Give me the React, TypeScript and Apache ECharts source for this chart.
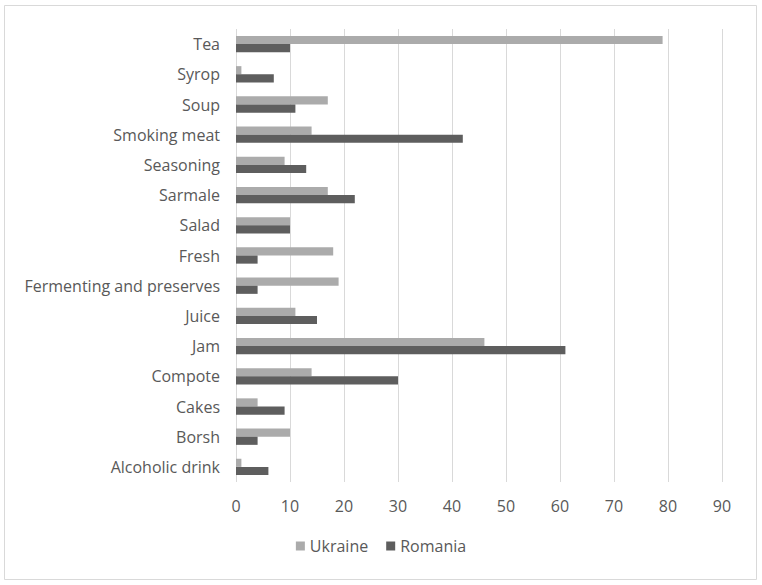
import React, { useEffect, useRef } from "react";
import * as echarts from "echarts";

const categories = [
  "Tea",
  "Syrop",
  "Soup",
  "Smoking meat",
  "Seasoning",
  "Sarmale",
  "Salad",
  "Fresh",
  "Fermenting and preserves",
  "Juice",
  "Jam",
  "Compote",
  "Cakes",
  "Borsh",
  "Alcoholic drink",
];
const ukraine = [79, 1, 17, 14, 9, 17, 10, 18, 19, 11, 46, 14, 4, 10, 1];
const romania = [10, 7, 11, 42, 13, 22, 10, 4, 4, 15, 61, 30, 9, 4, 6];
const xTicks = { min: 0, max: 90, interval: 10 };

const FONT = "Open Sans";
const TEXT = "#595959";

export default function App() {
  const ref = useRef<HTMLDivElement>(null);
  useEffect(() => {
    if (!ref.current) return;
    const chart = echarts.init(ref.current, undefined, { renderer: "svg" });
    chart.setOption({
      animation: false,
      backgroundColor: "#ffffff",
      textStyle: { fontFamily: FONT },
      graphic: [
        {
          type: "rect",
          shape: { x: 4.5, y: 5.5, width: 752, height: 574 },
          style: { fill: "none", stroke: "#d9d9d9", lineWidth: 1 },
          silent: true,
        },
      ],
      grid: { left: 236, right: 40, top: 29, bottom: 103, containLabel: false },
      legend: {
        bottom: 26,
        left: "center",
        itemWidth: 9,
        itemHeight: 9,
        itemGap: 18,
        icon: "rect",
        textStyle: { color: TEXT, fontSize: 16, fontFamily: FONT },
        data: ["Ukraine", "Romania"],
      },
      xAxis: {
        type: "value",
        min: xTicks.min,
        max: xTicks.max,
        interval: xTicks.interval,
        axisLine: { show: false },
        axisTick: { show: false },
        axisLabel: { color: TEXT, fontSize: 16, margin: 16, fontFamily: FONT },
        splitLine: { show: true, lineStyle: { color: "#d9d9d9", width: 1 } },
      },
      yAxis: {
        type: "category",
        inverse: true,
        data: categories,
        axisLine: { show: false },
        axisTick: { show: false },
        axisLabel: { color: TEXT, fontSize: 16, margin: 16, fontFamily: FONT },
      },
      series: [
        {
          name: "Ukraine",
          type: "bar",
          data: ukraine,
          barGap: "0%",
          barCategoryGap: "46%",
          itemStyle: { color: "#ababab" },
        },
        {
          name: "Romania",
          type: "bar",
          data: romania,
          barGap: "0%",
          barCategoryGap: "46%",
          itemStyle: { color: "#5e5e5e" },
        },
      ],
    });
    return () => chart.dispose();
  }, []);
  return (
    <div
      ref={ref}
      style={{ position: "absolute", left: 0, top: 0, width: 762, height: 585 }}
    />
  );
}
